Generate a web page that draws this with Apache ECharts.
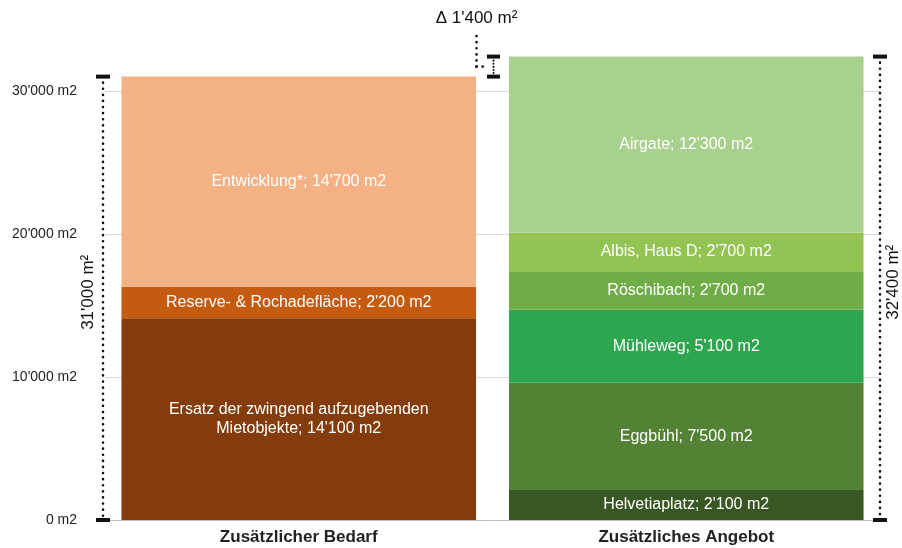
<!DOCTYPE html>
<html>
<head>
<meta charset="utf-8">
<script src="https://cdn.jsdelivr.net/npm/echarts@6/dist/echarts.min.js"></script>
<style>
  html, body { margin: 0; padding: 0; background: #fff; }
  #chart { width: 902px; height: 548px; }
</style>
</head>
<body>
<div id="chart"></div>
<script>
// Kategorien (x-Achse)
var categories = ['Zusätzlicher Bedarf', 'Zusätzliches Angebot'];

// linker Balken, von unten nach oben
var bedarfNames = ['Ersatz der zwingend aufzugebenden\nMietobjekte', 'Reserve- & Rochadefläche', 'Entwicklung*'];
var bedarfValues = [14100, 2200, 14700];
var bedarfColors = ['#843c0c', '#c55a11', '#f4b183'];

// rechter Balken, von unten nach oben
var angebotNames = ['Helvetiaplatz', 'Eggbühl', 'Mühleweg', 'Röschibach', 'Albis, Haus D', 'Airgate'];
var angebotValues = [2100, 7500, 5100, 2700, 2700, 12300];
var angebotColors = ['#385723', '#548235', '#2ea650', '#70ad47', '#92c353', '#a9d18e'];

var yTicks = [0, 10000, 20000, 30000];

function fmt(v) {
    return String(v).replace(/\B(?=(\d{3})+(?!\d))/g, "'");
}

var bedarfTotal = bedarfValues.reduce(function (a, b) { return a + b; }, 0);
var angebotTotal = angebotValues.reduce(function (a, b) { return a + b; }, 0);

var series = [];
// Balken-Segmente aufbauen
function addSegments(names, values, colors, catIndex) {
    for (var i = 0; i < names.length; i++) {
        var data = categories.map(function () { return '-'; });
        data[catIndex] = values[i];
        series.push({
            name: names[i],
            type: 'bar',
            stack: 'total',
            barCategoryGap: '8.5%',
            data: data,
            itemStyle: { color: colors[i] },
            label: {
                show: true,
                position: 'inside',
                color: '#fff',
                fontSize: 16,
                fontFamily: 'Liberation Sans',
                lineHeight: 19,
                formatter: (function (n) {
                    return function (p) { return n + '; ' + fmt(p.value) + ' m2'; };
                })(names[i])
            }
        });
    }
}
addSegments(bedarfNames, bedarfValues, bedarfColors, 0);
addSegments(angebotNames, angebotValues, angebotColors, 1);

var dotted = { stroke: '#111', lineWidth: 2.6, lineDash: [0.1, 6], lineCap: 'round' };
var capStyle = { stroke: '#111', lineWidth: 4 };

// Klammern links und rechts
series.push({
    type: 'custom',
    clip: false,
    silent: true,
    z: 10,
    data: [[0, bedarfTotal], [1, angebotTotal]],
    renderItem: function (params, api) {
        var cat = api.value(0);
        var band = api.size([1, 0])[0];
        var top = api.coord([cat, api.value(1)]);
        var bottom = api.coord([cat, 0]);
        var x = cat === 0 ? top[0] - band / 2 - 2 : top[0] + band / 2;
        var textX = cat === 0 ? x - 15 : x + 13;
        return {
            type: 'group',
            children: [
                { type: 'line', shape: { x1: x, y1: top[1] + 6, x2: x, y2: bottom[1] - 4 }, style: dotted },
                { type: 'line', shape: { x1: x - 7, y1: top[1], x2: x + 7, y2: top[1] }, style: capStyle },
                { type: 'line', shape: { x1: x - 7, y1: bottom[1], x2: x + 7, y2: bottom[1] }, style: capStyle },
                {
                    type: 'text',
                    x: textX, y: (top[1] + bottom[1]) / 2 - 6,
                    rotation: Math.PI / 2,
                    style: {
                        text: fmt(api.value(1)) + ' m²',
                        fill: '#111',
                        font: '17px "Liberation Sans"',
                        align: 'center',
                        verticalAlign: 'middle'
                    }
                }
            ]
        };
    }
});

// Differenz zwischen den Balken
series.push({
    type: 'custom',
    clip: false,
    silent: true,
    z: 10,
    data: [[bedarfTotal, angebotTotal]],
    renderItem: function (params, api) {
        var band = api.size([1, 0])[0];
        var low = api.coord([0, api.value(0)]);
        var high = api.coord([0, api.value(1)]);
        var x = low[0] + band / 2 + 1;
        var mid = (low[1] + high[1]) / 2;
        var xl = x - 17;
        return {
            type: 'group',
            children: [
                { type: 'line', shape: { x1: x - 6.5, y1: high[1], x2: x + 6.5, y2: high[1] }, style: capStyle },
                { type: 'line', shape: { x1: x - 6.5, y1: low[1], x2: x + 6.5, y2: low[1] }, style: capStyle },
                { type: 'line', shape: { x1: x, y1: high[1] + 4, x2: x, y2: low[1] - 3 }, style: { stroke: '#111', lineWidth: 2, lineDash: [0.1, 3], lineCap: 'round' } },
                { type: 'line', shape: { x1: xl, y1: mid, x2: x - 8, y2: mid }, style: dotted },
                { type: 'line', shape: { x1: xl, y1: mid, x2: xl, y2: 36 }, style: dotted },
                {
                    type: 'text',
                    x: xl, y: 18,
                    style: {
                        text: 'Δ ' + fmt(api.value(1) - api.value(0)) + ' m²',
                        fill: '#111',
                        font: '17px "Liberation Sans"',
                        align: 'center',
                        verticalAlign: 'middle'
                    }
                }
            ]
        };
    }
});

var myChart = echarts.init(document.getElementById('chart'));
var option = {
    animation: false,
    grid: { left: 105, right: 22, top: 48, bottom: 28 },
    xAxis: {
        type: 'category',
        data: categories,
        axisLine: { lineStyle: { color: '#bfbfbf', width: 1 } },
        axisTick: { show: false },
        axisLabel: {
            margin: 9,
            color: '#222',
            fontWeight: 'bold',
            fontSize: 17,
            fontFamily: 'Liberation Sans'
        }
    },
    yAxis: {
        type: 'value',
        min: 0,
        max: 33000,
        interval: 10000,
        axisLine: { show: false },
        axisTick: { show: false },
        splitLine: { showMaxLine: false, lineStyle: { color: '#d9d9d9', width: 1 } },
        axisLabel: {
            margin: 28,
            color: '#222',
            fontSize: 14,
            fontFamily: 'Liberation Sans',
            showMaxLabel: false,
            formatter: function (v) {
                return yTicks.indexOf(v) >= 0 ? fmt(v) + ' m2' : '';
            }
        }
    },
    series: series
};
myChart.setOption(option);
</script>
</body>
</html>
